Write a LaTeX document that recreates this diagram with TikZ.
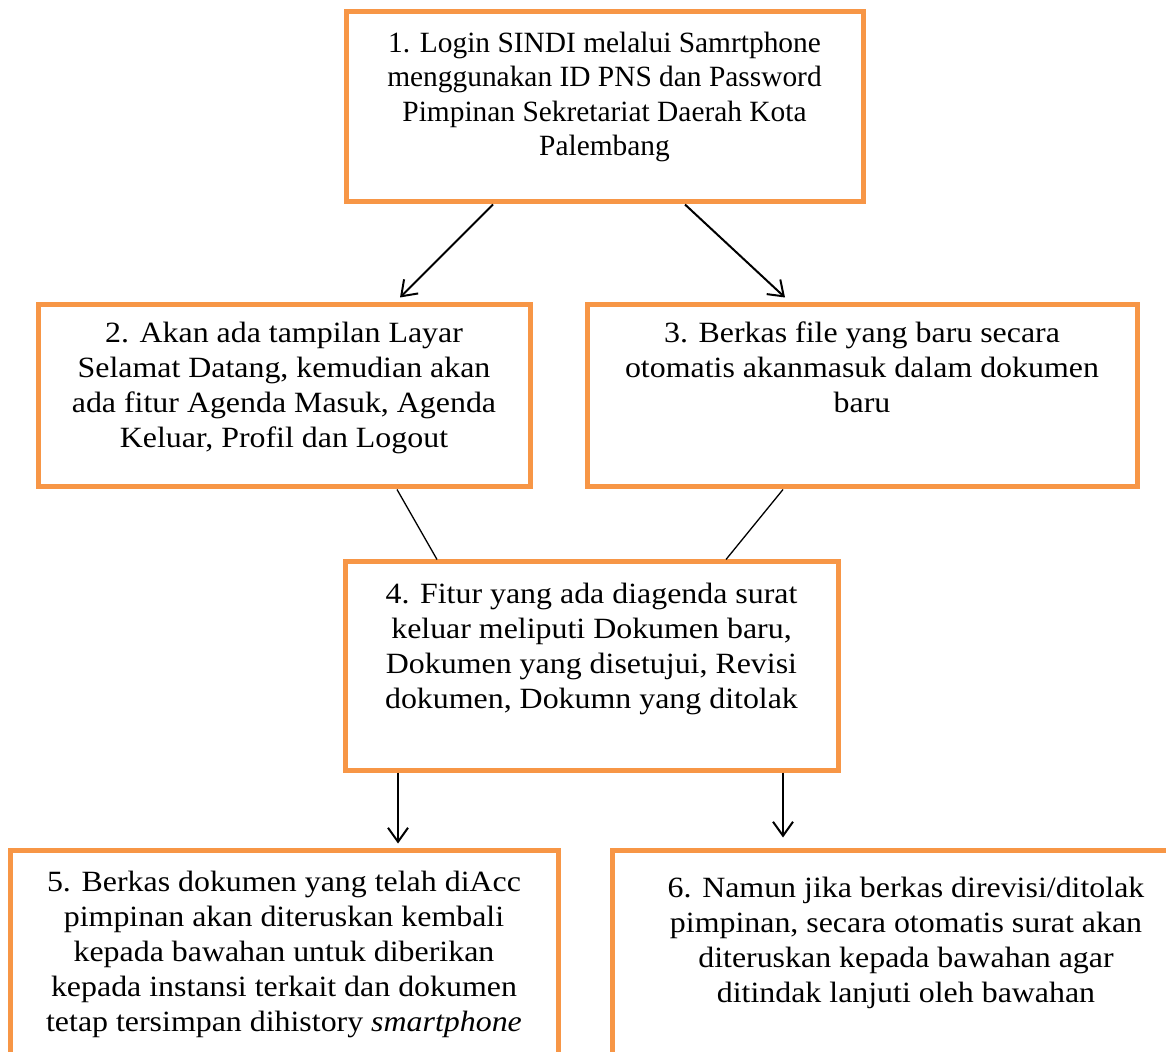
\documentclass[tikz,border=0pt]{standalone}
\usepackage{fontspec}
\setmainfont{Liberation Serif}
\newfontfamily\widefont[FakeStretch=1.085]{Liberation Serif}
\usetikzlibrary{positioning,arrows.meta}
\definecolor{boxorange}{RGB}{247,150,70}

\tikzset{
    stepbox/.style={draw=boxorange, line width=2.5pt, inner sep=0pt},
    steptext/.style={align=center, inner sep=0pt,
        font=\widefont\fontsize{14.7}{17.5}\selectfont},
    firsttext/.style={steptext, font=\normalfont\fontsize{14.7}{17.25}\selectfont},
    flow/.style={-{Straight Barb[length=7pt,width=10pt]}, line width=1pt},
    link/.style={line width=0.65pt}
}

\begin{document}
\begin{tikzpicture}[x=1pt, y=1pt]

    \useasboundingbox (0,0) rectangle (583,-526);

    % Boxes
    \node[stepbox, minimum width=258.5pt, minimum height=95pt] (s1) at (302.25,-53.5) {};
    \node[stepbox, minimum width=246pt, minimum height=91pt] (s2) at (142,-198) {};
    \node[stepbox, minimum width=275pt, minimum height=91pt] (s3) at (431,-198) {};
    \node[stepbox, minimum width=246.5pt, minimum height=104pt] (s4) at (295.75,-333) {};
    \node[stepbox, minimum width=274pt, minimum height=136pt] (s5) at (142,-493) {};
    \node[stepbox, minimum width=294pt, minimum height=136pt] (s6) at (453,-493) {};

    % Texts
    \node[firsttext, below=11pt of s1.north] (t1) {1. Login SINDI melalui Samrtphone\\
        menggunakan ID PNS dan Password\\ Pimpinan Sekretariat Daerah Kota\\ Palembang};
    \node[steptext, below=9.5pt of s2.north] (t2) {2. Akan ada tampilan Layar\\
        Selamat Datang, kemudian akan\\ ada fitur Agenda Masuk, Agenda\\
        Keluar, Profil dan Logout};
    \node[steptext, below=9.5pt of s3.north] (t3) {3. Berkas file yang baru secara\\
        otomatis akanmasuk dalam dokumen\\ baru};
    \node[steptext, below=11.5pt of s4.north] (t4) {4. Fitur yang ada diagenda surat\\
        keluar meliputi Dokumen baru,\\ Dokumen yang disetujui, Revisi\\
        dokumen, Dokumn yang ditolak};
    \node[steptext, below=11.5pt of s5.north] (t5) {5. Berkas dokumen yang telah diAcc\\
        pimpinan akan diteruskan kembali\\ kepada bawahan untuk diberikan\\
        kepada instansi terkait dan dokumen\\ tetap tersimpan dihistory \textit{smartphone}};
    \node[steptext, below=14.5pt of s6.north] (t6) {6. Namun jika berkas direvisi/ditolak\\
        pimpinan, secara otomatis surat akan\\ diteruskan kepada bawahan agar\\
        ditindak lanjuti oleh bawahan};

    % Connectors
    \draw[flow] ([xshift=-55.75pt]s1.south) -- ([xshift=58pt,yshift=2.5pt]s2.north);
    \draw[flow] ([xshift=40.25pt]s1.south) -- ([xshift=-38.5pt,yshift=2.5pt]s3.north);
    \draw[link] ([xshift=56.5pt]s2.south) -- ([xshift=-77.25pt]s4.north);
    \draw[link] ([xshift=-39.5pt]s3.south) -- ([xshift=67.25pt]s4.north);
    \draw[flow] ([xshift=-96.75pt]s4.south) -- ([xshift=57pt,yshift=2pt]s5.north);
    \draw[flow] ([xshift=95.75pt]s4.south) -- ([xshift=-61.5pt,yshift=5pt]s6.north);

\end{tikzpicture}
\end{document}
